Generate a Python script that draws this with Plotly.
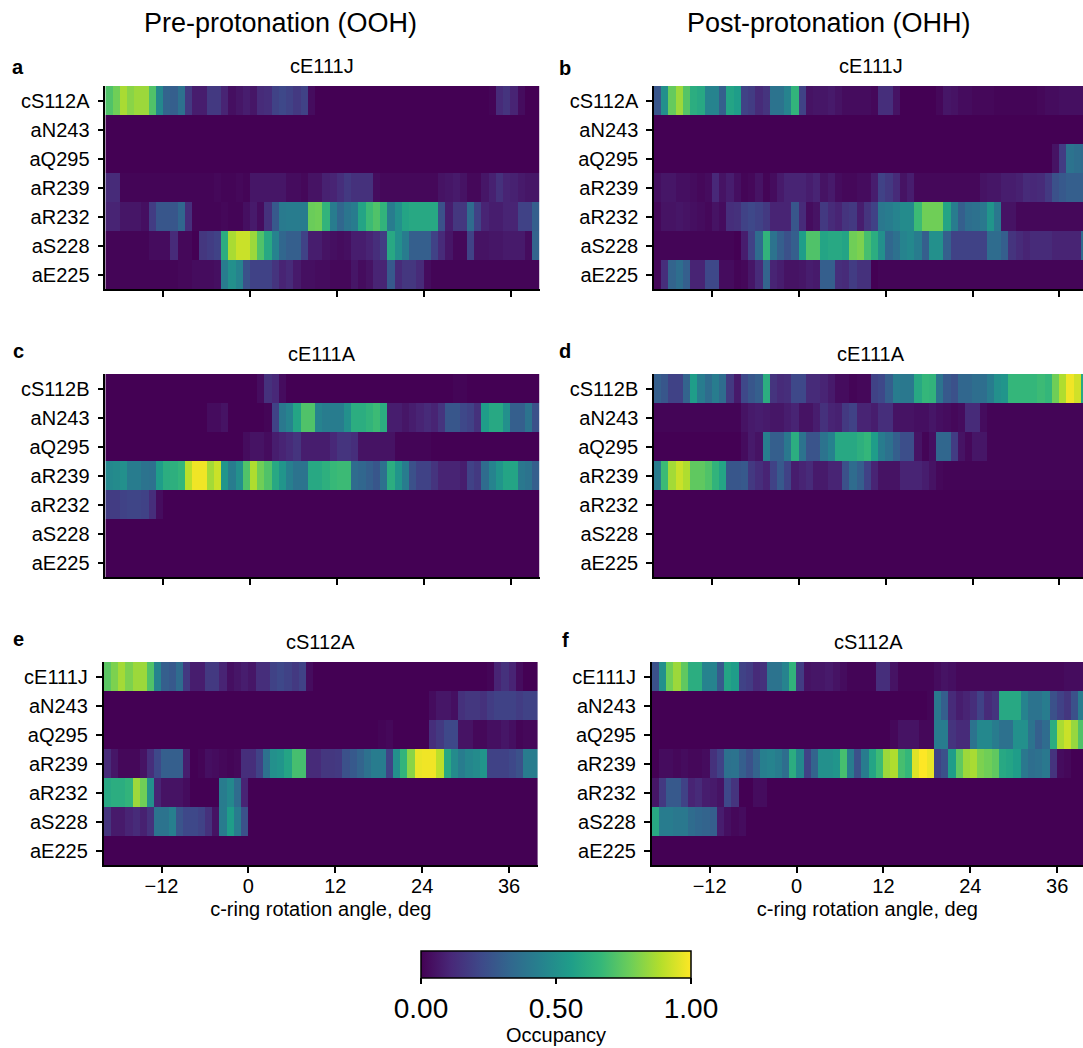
import numpy as np
import plotly.graph_objects as go

W, H = 1083, 1048
angle_edges = list(range(-20, 41))
tick_vals = [-12, 0, 12, 24, 36]

rows_a = ["cS112A", "aN243", "aQ295", "aR239", "aR232", "aS228", "aE225"]
rows_c = ["cS112B", "aN243", "aQ295", "aR239", "aR232", "aS228", "aE225"]
rows_e = ["cE111J", "aN243", "aQ295", "aR239", "aR232", "aS228", "aE225"]

def full(vals):
    return list(vals) + [0.0] * (60 - len(vals))

a_cS112 = [.72,.78,.87,.82,.85,.85,.72,.47,.32,.30,.37,.17,.08,.08,.17,.17,.10,.04,.06,.08,.06,.12,.13,.20,.22,.20,.17,.20,.03,0,0,0,0,0,0,0,0,0,0,0,0,0,0,0,0,0,0,0,0,0,0,0,0,.01,.12,.15,.10,.03,0,0]
a_aN243 = []
a_aQ295 = []
a_aR239 = [.12,.12,.01,.01,.01,.01,.01,.01,.01,.01,.01,.01,.01,.01,.01,.02,.01,.01,.02,.01,.06,.06,.06,.06,.06,.03,.03,.02,.05,.05,.09,.10,.13,.17,.14,.14,.14,.03,.02,.02,.02,.02,.02,.02,.02,.02,.05,.06,.07,.05,.02,.02,.06,.09,.14,.10,.09,.07,.06,.06]
a_aR232 = [.10,.10,.06,.06,.06,.04,.18,.27,.27,.27,.33,.13,.01,.01,.01,.01,.02,.01,.01,.04,.07,.03,.14,.28,.41,.42,.42,.42,.77,.78,.65,.42,.33,.39,.42,.58,.68,.72,.65,.42,.50,.58,.60,.60,.60,.60,.25,.08,.16,.16,.35,.20,.10,.08,.08,.10,.10,.20,.20,.30]
a_aS228 = [.01,.01,.01,.01,.01,.01,.03,.03,.03,.12,.02,.02,0,.16,.18,.20,.62,.87,.92,.92,.85,.72,.60,.45,.33,.30,.30,.20,.08,.08,.05,.04,.03,.04,.08,.08,.10,.13,.18,.60,.50,.42,.30,.30,.30,.20,.12,.06,.02,.02,.20,.05,.05,.06,.06,.07,.07,.07,.03,.32]
a_aE225 = [.01,.01,.01,.01,.01,.01,.01,.01,.01,.01,.02,.02,.03,.03,.03,.04,.42,.50,.45,.25,.20,.20,.20,.15,.10,.12,.07,.04,.04,.03,.03,.02,.02,.02,.06,.03,.05,.10,.10,.28,.12,.16,.16,.12,.03,.01,.01,.01,.01,.01,.01,.01,.01,.01,.01,.01,.01,.01,.01,.01]

b_cS112 = [.27,.50,.76,.85,.73,.62,.60,.45,.45,.30,.58,.55,.20,.18,.12,.15,.38,.38,.45,.65,.20,.05,.06,.06,.07,.05,.03,.03,.03,.03,.02,.13,.13,.05,0,0,0,0,0,.02,.06,.05,.03,.03,.02,.02,.02,.01,.01,.01,.01,.01,.01,.02,.03,.03,.04,.04,.04,.04]
b_aN243 = []
b_aQ295 = [0,0,0,0,0,0,0,0,0,0,0,0,0,0,0,0,0,0,0,0,0,0,0,0,0,0,0,0,0,0,0,0,0,0,0,0,0,0,0,0,0,0,0,0,0,0,0,0,0,0,0,0,0,0,0,.05,.18,.38,.36,.34]
b_aR239 = [.04,.06,.06,.04,.04,.03,.02,.03,.11,.05,.08,.04,.01,.02,.05,.01,.03,.07,.10,.10,.10,.08,.10,.05,.07,.03,.02,.02,.03,.03,.08,.20,.17,.12,.05,.08,.02,.02,.02,.02,.02,.02,.02,.02,.02,.05,.06,.06,.08,.08,.09,.12,.11,.12,.17,.25,.28,.30,.30,.30]
b_aR232 = [.02,.05,.05,.06,.05,.04,.03,.02,.05,.03,.13,.14,.20,.22,.20,.17,.10,.10,.10,.27,.12,.03,.05,.17,.12,.10,.15,.17,.08,.15,.20,.40,.42,.45,.48,.48,.68,.78,.78,.78,.58,.42,.30,.36,.37,.40,.52,.40,.05,.05,.02,.02,.02,.02,.02,.02,.02,.02,.02,.02]
b_aS228 = [.01,.01,.01,.01,.01,.01,.01,.01,.01,.01,.01,0,.08,.20,.35,.65,.38,.30,.25,.30,.55,.72,.72,.58,.60,.60,.58,.78,.80,.70,.62,.50,.33,.37,.45,.47,.42,.30,.50,.50,.30,.20,.20,.20,.20,.20,.35,.35,.30,.15,.12,.10,.12,.12,.12,.10,.10,.10,.10,.35]
b_aE225 = [.02,.13,.32,.36,.30,.10,.10,.22,.22,.03,.03,.01,.02,.06,.12,.32,.10,.08,.05,.05,.06,.08,.07,.30,.30,.13,.12,.18,.14,.14,0,.01,.01,.01,.01,.01,.01,.01,.01,.01,.01,.01,.01,.01,.01,.01,.01,.01,.01,.01,.01,.01,.01,.01,.01,.01,.01,.01,.01,.01]

c_cS112 = [0,0,0,0,0,0,0,0,0,0,0,0,0,0,0,0,0,0,0,0,0,.03,.14,.11,.03,0,0,0,0,0,0,0,0,0,0,0,0,0,0,0,0,0,0,0,0,0,0,0,.01,.01]
c_aN243 = [0,0,0,0,0,0,0,0,0,0,0,0,0,0,.03,.03,.05,0,0,0,0,0,.01,.20,.40,.45,.58,.72,.72,.45,.42,.42,.42,.50,.62,.62,.65,.68,.62,.08,.08,.06,.08,.10,.12,.10,.15,.27,.27,.22,.20,.14,.55,.60,.60,.50,.30,.30,.38,.25]
c_aQ295 = [0,0,0,0,0,0,0,0,0,0,0,0,0,0,0,0,0,0,0,.03,.05,.05,.03,.08,.10,.12,.15,.08,.08,.08,.08,.11,.15,.15,.13,.05,.05,.05,.05,.05,.01,.01,.01,.01,.01]
c_aR239 = [.47,.48,.50,.42,.42,.38,.37,.55,.62,.63,.66,.90,.98,.98,.86,.92,.52,.42,.50,.72,.88,.78,.72,.60,.52,.43,.38,.38,.60,.60,.63,.67,.68,.68,.35,.33,.30,.27,.37,.62,.52,.42,.25,.20,.20,.15,.10,.10,.10,.08,.20,.17,.35,.45,.52,.58,.58,.40,.38,.30]
c_aR232 = [.18,.18,.20,.21,.21,.20,.13,.03]
c_aS228 = []
c_aE225 = []

d_cS112 = [.30,.27,.20,.20,.32,.55,.42,.35,.42,.35,.17,.07,.22,.27,.30,.62,.15,.12,.13,.22,.22,.12,.12,.10,.07,.03,.03,.01,.02,.02,.20,.22,.30,.42,.40,.40,.60,.66,.65,.38,.28,.25,.33,.33,.36,.36,.42,.50,.52,.66,.66,.66,.66,.68,.66,.78,.88,.98,.93,.60]
d_aN243 = [.01,.01,.01,.01,.01,.01,.01,.01,.01,.01,.01,.01,.05,.07,.08,.07,.06,.06,.08,.10,.05,.05,.08,.14,.10,.09,.17,.20,.10,.10,.08,.13,.13,.05,.05,.05,.04,.04,.06,.04,.03,.02,.03,.12,.12,.03,.01,.01,.01,.01,.01,.01,.01,.01,.01,.01,.01,.01,.01,.01]
d_aQ295 = [0,0,0,0,0,0,0,0,0,0,0,0,.03,.07,.05,.43,.30,.30,.40,.62,.38,.26,.26,.38,.44,.60,.60,.60,.63,.66,.55,.42,.37,.30,.24,.24,.05,.01,.04,.33,.33,.18,.05,.02,.06,.06,.01,.01,.01,.01,.01,.01,.01,.01,.01,.01,.01,.01,.01,.01]
d_aR239 = [.42,.68,.86,.92,.88,.75,.75,.72,.65,.58,.27,.27,.28,.17,.13,.10,.20,.28,.20,.08,.10,.12,.07,.07,.10,.10,.25,.35,.30,.20,.10,.05,.05,.05,.10,.10,.10,.08,.05,.02,.01,.01,.01,.01,.01,.01,.01,.01,.01,.01,.01,.01,.01,.01,.01,.01,.01,.01,.01,.01]
d_aR232 = []
d_aS228 = []
d_aE225 = []

e_cE111 = [.74,.80,.86,.80,.85,.85,.72,.45,.30,.28,.35,.17,.08,.08,.17,.17,.10,.04,.06,.08,.06,.13,.13,.20,.22,.20,.17,.20,.03,0,0,0,0,0,0,0,0,0,0,0,0,0,0,0,0,0,0,0,0,0,0,0,0,.01,.10,.14,.10,.03,0,0]
e_aN243 = [0,0,0,0,0,0,0,0,0,0,0,0,0,0,0,0,0,0,0,0,0,0,0,0,0,0,0,0,0,0,0,0,0,0,0,0,0,0,0,0,0,0,0,0,0,.03,.06,.06,.04,.14,.16,.16,.14,.18,.20,.20,.20,.18,.20,.20]
e_aQ295 = [0,0,0,0,0,0,0,0,0,0,0,0,0,0,0,0,0,0,0,0,0,0,0,0,0,0,0,0,0,0,0,0,0,0,0,0,0,0,.01,.02,0,0,0,0,0,.13,.17,.22,.22,.05,.05,.02,.02,.04,.04,.06,.04,.01,.02,.02]
e_aR239 = [.12,.06,.02,.02,.02,.05,.13,.22,.30,.30,.30,.08,0,.01,.04,.03,.02,.01,.02,.13,.13,.20,.37,.50,.52,.58,.70,.70,.12,.12,.16,.16,.17,.25,.28,.32,.37,.42,.42,.20,.50,.65,.82,.97,.98,.98,.90,.60,.48,.42,.46,.48,.52,.20,.20,.20,.22,.25,.42,.42]
e_aR232 = [.60,.62,.62,.65,.85,.78,.50,.10,.05,.05,.05,.03,0,0,0,0,.42,.47,.35,.10]
e_aS228 = [.15,.07,.07,.10,.12,.09,.14,.38,.38,.43,.26,.22,.22,.20,.14,.05,.42,.55,.42,.25]
e_aE225 = []

f_cE111 = [.25,.50,.78,.85,.75,.62,.62,.45,.45,.28,.58,.55,.20,.18,.12,.14,.38,.38,.45,.65,.18,.05,.06,.06,.07,.05,.03,.01,.01,.01,.01,.13,.13,.05,.01,.01,.01,.01,.01,.03,.05,.04,.02,.02,.02,.02,.02,.02,.02,.02,.02,.02,.02,.02,.02,.02,.02,.03,.03,.03]
f_aN243 = [0,0,0,0,0,0,0,0,0,0,0,0,0,0,0,0,0,0,0,0,0,0,0,0,0,0,0,0,0,0,0,0,0,0,0,0,0,0,.01,.40,.30,.12,.08,.10,.13,.20,.12,.15,.60,.60,.60,.45,.38,.38,.42,.25,.20,.16,.25,.42]
f_aQ295 = [0,0,0,0,0,0,0,0,0,0,0,0,0,0,0,0,0,0,0,0,0,0,0,0,0,0,0,0,0,0,0,0,0,.02,.05,.05,.05,.02,.02,.42,.42,.15,.12,.12,.38,.47,.47,.42,.37,.37,.50,.50,.38,.30,.35,.62,.87,.92,.84,.72]
f_aR239 = [0,.03,.03,.02,.03,.02,.02,.03,.14,.20,.37,.38,.30,.25,.32,.43,.45,.42,.36,.62,.47,.20,.32,.50,.50,.52,.70,.42,.25,.42,.58,.68,.85,.88,.70,.66,.95,1.0,.97,.20,.25,.55,.75,.85,.87,.80,.78,.75,.60,.58,.55,.40,.36,.37,.40,.15,.03,.02]
f_aR232 = [.06,.17,.28,.28,.20,.10,.12,.08,.07,.05,.22,.15,0,0,.03,.03]
f_aS228 = [.60,.42,.42,.40,.40,.35,.33,.32,.30,.08,.04,.02,.03]
f_aE225 = []

panels = [
    ("a", "cE111J", rows_a, [a_cS112, a_aN243, a_aQ295, a_aR239, a_aR232, a_aS228, a_aE225], 105.3, 86, 18, 67),
    ("b", "cE111J", rows_a, [b_cS112, b_aN243, b_aQ295, b_aR239, b_aR232, b_aS228, b_aE225], 654.0, 86, 565, 68),
    ("c", "cE111A", rows_c, [c_cS112, c_aN243, c_aQ295, c_aR239, c_aR232, c_aS228, c_aE225], 105.3, 374, 18, 351),
    ("d", "cE111A", rows_c, [d_cS112, d_aN243, d_aQ295, d_aR239, d_aR232, d_aS228, d_aE225], 654.0, 374, 565, 351),
    ("e", "cS112A", rows_e, [e_cE111, e_aN243, e_aQ295, e_aR239, e_aR232, e_aS228, e_aE225], 103.6, 662, 18, 639),
    ("f", "cS112A", rows_e, [f_cE111, f_aN243, f_aQ295, f_aR239, f_aR232, f_aS228, f_aE225], 651.7, 662, 565, 640),
]

FONT = "Liberation Sans"
PX_DEG = 7.24
PANEL_H = 203
SMALL = 20
fig = go.Figure()
layout = {}
annots = []

for i, (letter, title, rows, vals, left, top, lx, ly) in enumerate(panels):
    n = "" if i == 0 else str(i + 1)
    right = min(left + 60 * PX_DEG, W)
    xmax = -20 + (right - left) / PX_DEG
    z = [full(v) for v in vals]
    trace = dict(
        z=z, x=angle_edges, y=rows, xaxis="x" + n, yaxis="y" + n,
        colorscale="Viridis", zmin=0, zmax=1, showscale=(i == 0), hoverinfo="skip",
    )
    if i == 0:
        trace["colorbar"] = dict(
            orientation="h", lenmode="pixels", len=270, thickness=27,
            x=556 / W, xanchor="center", y=1 - 951 / H, yanchor="top",
            xpad=0, ypad=0, outlinecolor="black", outlinewidth=1.5,
            ticks="outside", ticklen=6, tickwidth=1.5, tickcolor="black",
            tickvals=[0, 0.5, 1], ticktext=["0.00", "0.50", "1.00"],
            tickfont=dict(family=FONT, size=28, color="black"),
        )
    fig.add_trace(go.Heatmap(**trace))
    bottom_row = i >= 4
    layout["xaxis" + n] = dict(
        domain=[left / W, right / W], range=[-20, xmax], anchor="y" + n,
        tickvals=tick_vals, showticklabels=bottom_row,
        ticks="outside", ticklen=6, tickwidth=1.5, tickcolor="black",
        ticklabelstandoff=-4,
        showline=True, linecolor="black", linewidth=1.5, mirror=False,
        showgrid=False, zeroline=False,
        tickfont=dict(family=FONT, size=SMALL, color="black"),
        title=dict(text="c-ring rotation angle, deg" if bottom_row else "",
                   font=dict(family=FONT, size=SMALL, color="black"), standoff=6),
    )
    layout["yaxis" + n] = dict(
        domain=[1 - (top + PANEL_H) / H, 1 - top / H], range=[6.5, -0.5], anchor="x" + n,
        type="category", categoryorder="array", categoryarray=rows,
        ticks="outside", ticklen=6, tickwidth=1.5, tickcolor="black",
        ticklabelstandoff=4,
        showline=True, linecolor="black", linewidth=1.5,
        showgrid=False, zeroline=False,
        tickfont=dict(family=FONT, size=SMALL, color="black"),
    )
    annots.append(dict(text=title, xref="paper", yref="paper", x=(left + 217) / W,
                       y=1 - (top - 20) / H, showarrow=False, xanchor="center", yanchor="middle",
                       font=dict(family=FONT, size=SMALL, color="black")))
    annots.append(dict(text="<b>%s</b>" % letter, xref="paper", yref="paper", x=lx / W,
                       y=1 - ly / H, showarrow=False, xanchor="center", yanchor="middle",
                       font=dict(family=FONT, size=SMALL, color="black")))

annots.append(dict(text="Pre-protonation (OOH)", xref="paper", yref="paper", x=280 / W, y=1 - 23 / H,
                   showarrow=False, xanchor="center", yanchor="middle",
                   font=dict(family=FONT, size=27, color="black")))
annots.append(dict(text="Post-protonation (OHH)", xref="paper", yref="paper", x=829 / W, y=1 - 23 / H,
                   showarrow=False, xanchor="center", yanchor="middle",
                   font=dict(family=FONT, size=27, color="black")))
annots.append(dict(text="Occupancy", xref="paper", yref="paper", x=556 / W, y=1 - 1035 / H,
                   showarrow=False, xanchor="center", yanchor="middle",
                   font=dict(family=FONT, size=SMALL, color="black")))

fig.update_layout(
    width=W, height=H, margin=dict(l=0, r=0, t=0, b=0),
    paper_bgcolor="white", plot_bgcolor="white",
    annotations=annots, **layout,
)
fig.write_html("out.html", config={"displayModeBar": False},
               post_script="document.body.style.margin='0';document.body.style.overflow='hidden';")
